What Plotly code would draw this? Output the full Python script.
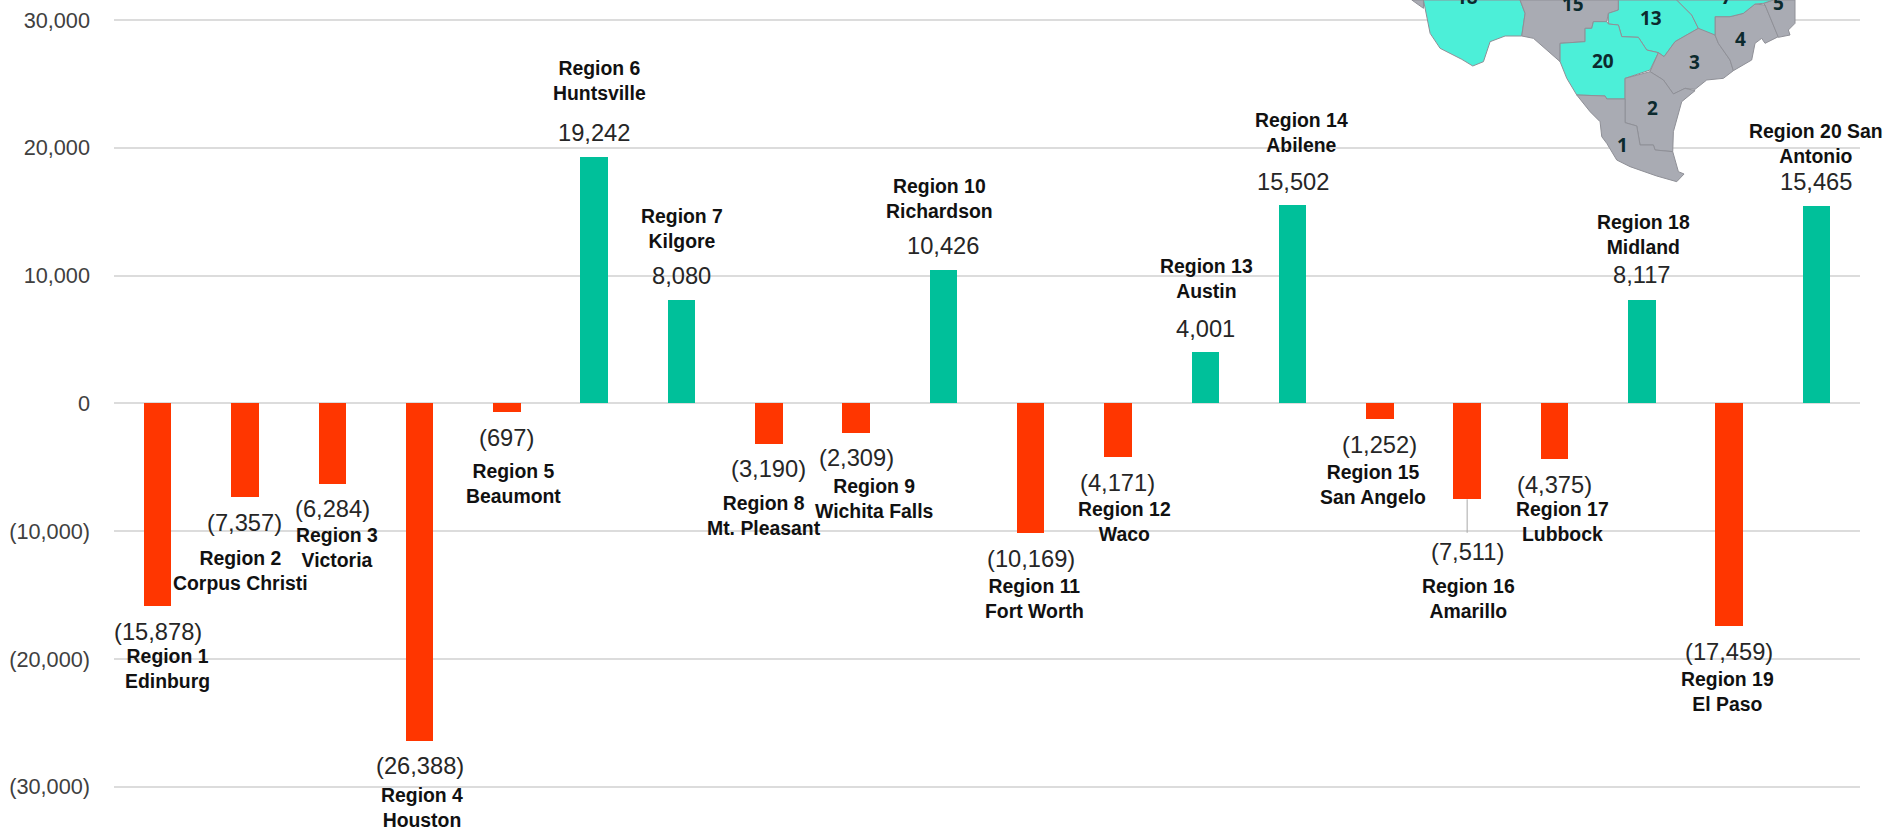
import plotly.graph_objects as go

# ---- data ----
region_numbers = list(range(1, 21))
cities = ["Edinburg", "Corpus Christi", "Victoria", "Houston", "Beaumont", "Huntsville", "Kilgore",
          "Mt. Pleasant", "Wichita Falls", "Richardson", "Fort Worth", "Waco", "Austin", "Abilene",
          "San Angelo", "Amarillo", "Lubbock", "Midland", "El Paso", "San Antonio"]
values = [-15878, -7357, -6284, -26388, -697, 19242, 8080, -3190, -2309, 10426,
          -10169, -4171, 4001, 15502, -1252, -7511, -4375, 8117, -17459, 15465]
tick_values = [-30000, -20000, -10000, 0, 10000, 20000, 30000]
tick_labels = ["(30,000)", "(20,000)", "(10,000)", "0", "10,000", "20,000", "30,000"]

# label placement relative to bar end, in pixels (dx right, dy down)
value_dy = [25.5, 25.7, 25.4, 25.5, 25.8, -24.4, -24.3, 25, 25.2, -24.3,
            25.7, 26, -23.5, -23.5, 25.7, 52.7, 25.8, -24.6, 25.6, -24]
name_dx = [10, -4.4, 4.3, 2.7, 7, 5.7, 1, -4.5, 17.9, -3.5,
           3.5, 6.6, 1.3, 8.7, -6.6, 1.3, 7.8, 1.3, -1.6, -0.6]
name_dy = [62.5, 72.7, 63.9, 66.5, 71.5, -77.4, -71.3, 71, 65.9, -72,
           64.7, 64.9, -73.5, -72.5, 64.7, 99.4, 61.8, -65.1, 64.6, -62]

# ---- layout constants ----
W, H = 1904, 832
LEFT, RIGHT = 113.5, 1860
Y_TOP, Y_BOTTOM = 31560, -33540
FONT = "Liberation Sans"
GREEN, RED = "#00c09a", "#ff3600"
categories = [f"Region {n}" for n in region_numbers]


def fmt(v):
    return f"({abs(v):,})" if v < 0 else f"{v:,}"


fig = go.Figure(go.Bar(
    x=categories, y=values,
    marker=dict(color=[GREEN if v > 0 else RED for v in values], line_width=0),
    width=0.315, hovertemplate="%{x}<br>%{y:,}<extra></extra>",
))

annotations = []
for i, (cat, city, v) in enumerate(zip(categories, cities, values)):
    annotations.append(dict(x=cat, y=v, text=fmt(v), showarrow=False, yanchor="middle", xanchor="center",
                            yshift=-value_dy[i], font=dict(family=FONT, size=23.7, color="#262626")))
    if cat == "Region 20":
        name = f"{cat} San<br>Antonio"
    else:
        name = f"{cat}<br>{city}"
    annotations.append(dict(x=cat, y=v, text=f"<b>{name}</b>", showarrow=False, yanchor="middle", xanchor="center",
                            xshift=name_dx[i], yshift=-name_dy[i],
                            font=dict(family=FONT, size=19.4, color="#111111")))

# ---- inset map of Texas service regions (decorative picture in the corner) ----
MAP_X0 = 1390
TEAL, GREY, EDGE = "#4cefd8", "#a9abb3", "#8f9097"


def px(zx, zy):
    return ((MAP_X0 + zx / 3 - LEFT) / (RIGHT - LEFT), 1 - (zy / 3) / H)


map_regions = {
    "sliver": (GREY, [(65, 0), (100, 25), (100, 0)]),
    "18": (TEAL, [(100, 0), (120, 100), (150, 145), (215, 178), (248, 198), (280, 185), (300, 125),
                  (345, 108), (395, 108), (405, 40), (390, 0)]),
    "15": (GREY, [(390, 0), (405, 40), (395, 108), (430, 115), (510, 185), (510, 130), (585, 125), (585, 85),
                  (605, 85), (610, 65), (650, 65), (655, 40), (685, 30), (685, 0)]),
    "13": (TEAL, [(685, 0), (685, 30), (655, 40), (655, 72), (685, 75), (695, 110), (745, 112), (770, 150),
                  (805, 158), (822, 170), (855, 125), (925, 85), (905, 45), (860, 0)]),
    "20": (TEAL, [(510, 130), (585, 125), (585, 85), (605, 85), (610, 65), (650, 65), (655, 72), (685, 75),
                  (695, 110), (745, 112), (770, 150), (805, 158), (780, 210), (705, 235), (705, 297), (650, 297),
                  (645, 288), (560, 285), (530, 235), (510, 185)]),
    "3": (GREY, [(925, 85), (855, 125), (822, 170), (805, 158), (780, 215), (820, 240), (850, 282), (885, 265),
                 (915, 268), (950, 240), (1000, 235), (1030, 212), (1020, 180), (985, 130), (975, 105), (940, 85)]),
    "2": (GREY, [(705, 235), (780, 215), (820, 240), (850, 282), (885, 265), (915, 272), (875, 305), (850, 395),
                 (848, 455), (795, 450), (790, 435), (750, 435), (740, 378), (705, 368)]),
    "1": (GREY, [(560, 285), (645, 288), (650, 297), (705, 297), (705, 368), (740, 378), (750, 435), (790, 435),
                 (795, 450), (848, 455), (865, 515), (882, 522), (860, 545), (800, 528), (720, 500), (680, 480),
                 (650, 430), (635, 410), (630, 365), (600, 335)]),
    "4": (GREY, [(975, 50), (1020, 50), (1060, 40), (1095, 12), (1125, 15), (1165, 110), (1125, 130), (1115, 115),
                 (1095, 130), (1085, 180), (1030, 212), (1020, 180), (985, 130), (975, 105)]),
    "5": (GREY, [(1120, 10), (1150, 0), (1215, 0), (1215, 70), (1195, 90), (1200, 105), (1165, 112), (1125, 15)]),
    "7": (TEAL, [(860, 0), (905, 45), (925, 85), (975, 105), (975, 50), (1020, 50), (1060, 40), (1095, 12),
                 (1120, 10), (1150, 0)]),
}
shapes = []
for fill, pts in map_regions.values():
    path = "M " + " L ".join("{:.5f},{:.5f}".format(*px(*p)) for p in pts) + " Z"
    shapes.append(dict(type="path", xref="paper", yref="paper", path=path, fillcolor=fill,
                       line=dict(color=EDGE, width=1), layer="above"))

map_texts = [("13", 782, 55), ("20", 638, 183), ("3", 913, 187), ("2", 787, 323), ("1", 697, 435),
             ("4", 1050, 117), ("15", 548, 12), ("18", 230, -8), ("5", 1165, 10), ("7", 1010, -8)]
for t, zx, zy in map_texts:
    x, y = px(zx, zy)
    annotations.append(dict(xref="paper", yref="paper", x=x, y=y, text=f"<b>{t}</b>", showarrow=False,
                            xanchor="center", yanchor="middle",
                            font=dict(family="Open Sans", size=19, color="#0c2a2e")))

# leader line for Region 16
shapes.append(dict(type="line", xref="x", yref="y", x0="Region 16", x1="Region 16",
                   y0=-7511, y1=-10130, line=dict(color="#a8a8a8", width=1)))

fig.update_layout(
    width=W, height=H, margin=dict(l=LEFT, r=W - RIGHT, t=0, b=0, pad=0),
    paper_bgcolor="white", plot_bgcolor="white", showlegend=False, bargap=0,
    xaxis=dict(showticklabels=False, showgrid=False, zeroline=False, ticks="", type="category",
               range=[-0.5, 19.5], fixedrange=True),
    yaxis=dict(range=[Y_BOTTOM, Y_TOP], tickvals=tick_values, ticktext=tick_labels, showgrid=True,
               gridcolor="#dcdcdc", gridwidth=1.6, zeroline=True, zerolinecolor="#dcdcdc", zerolinewidth=1.6,
               ticks="", ticklabelstandoff=23, showline=False,
               tickfont=dict(family=FONT, size=21.7, color="#404040"), fixedrange=True),
    shapes=shapes, annotations=annotations,
)

fig.write_html("out.html", config={"displayModeBar": False},
               post_script="document.body.style.margin='0';document.body.style.overflow='hidden';")
